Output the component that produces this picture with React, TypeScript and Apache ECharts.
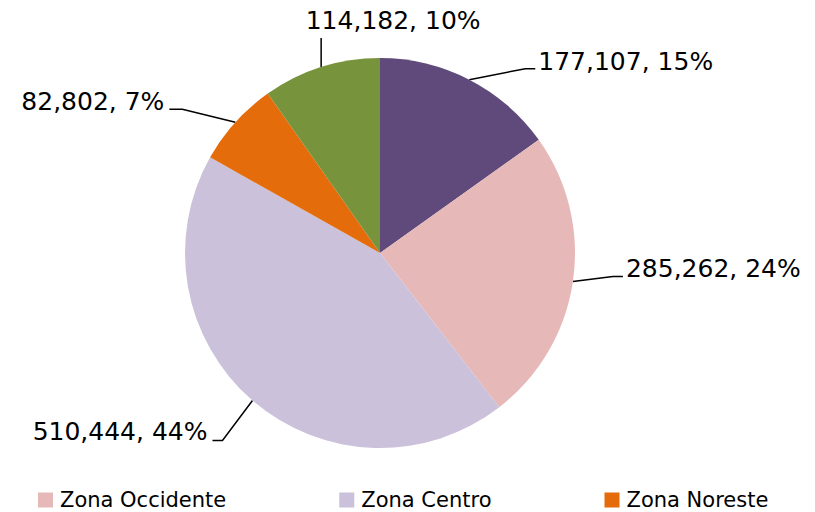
import React, { useEffect, useRef } from "react";
import * as echarts from "echarts";

const zones = ["Zona Sur", "Zona Occidente", "Zona Centro", "Zona Noreste", "Zona Norte"];
const values = [177107, 285262, 510444, 82802, 114182];
const colors = ["#604A7B", "#E6B9B8", "#CCC1DA", "#E46C0A", "#77933C"];
const legendNames = ["Zona Occidente", "Zona Centro", "Zona Noreste"];

// leader line styling per slice: elbow offset from edge anchor, tail length, label alignment
const leader = [
  { ex: 56, ey: -11, tail: 10, align: "left", ty: -7 },
  { ex: 40, ey: -5, tail: 10, align: "left", ty: -8 },
  { ex: -30, ey: 40, tail: -10, align: "right", ty: -9 },
  { ex: -53, ey: -13, tail: -13, align: "right", ty: -8 },
  { ex: 0, ey: -29, tail: 0, align: "center", ty: -18 },
];

export default function App() {
  const ref = useRef<HTMLDivElement>(null);
  useEffect(() => {
    document.body.style.margin = "0";
    const chart = echarts.init(ref.current!, null, { renderer: "svg" });
    const total = values.reduce((a, b) => a + b, 0);
    chart.setOption({
      animation: false,
      backgroundColor: "#fff",
      legend: {
        data: legendNames,
        left: 33,
        top: 484,
        itemWidth: 15,
        itemHeight: 15,
        itemGap: 113,
        icon: "rect",
        textStyle: { fontFamily: "DejaVu Sans", fontSize: 21, lineHeight: 22, color: "#000", padding: [0, 0, 0, 2] },
      },
      series: [
        {
          type: "pie",
          center: [380, 253],
          radius: 195,
          startAngle: 90,
          clockwise: true,
          data: zones.map((n, i) => ({ name: n, value: values[i], itemStyle: { color: colors[i] } })),
          label: {
            show: true,
            position: "outside",
            fontFamily: "DejaVu Sans",
            fontSize: 25,
            color: "#000",
            formatter: (p: any) =>
              p.value.toLocaleString("en-US") + ", " + Math.round((p.value / total) * 100) + "%",
          },
          labelLine: { show: true, length: 20, length2: 10, lineStyle: { color: "#000", width: 1.5 } },
          labelLayout: (p: any) => {
            const L = leader[p.dataIndex];
            const a = p.labelLinePoints[0];
            const elbow = [a[0] + L.ex, a[1] + L.ey];
            const end = [elbow[0] + L.tail, elbow[1]];
            const gap = L.align === "left" ? 3 : L.align === "right" ? -5 : 0;
            return {
              x: end[0] + gap + (L.align === "center" ? 72 : 0),
              y: end[1] + L.ty,
              align: L.align,
              verticalAlign: "middle",
              labelLinePoints: [a, elbow, end],
            };
          },
        },
      ],
    });
    return () => chart.dispose();
  }, []);
  return <div ref={ref} style={{ width: 815, height: 512 }} />;
}
